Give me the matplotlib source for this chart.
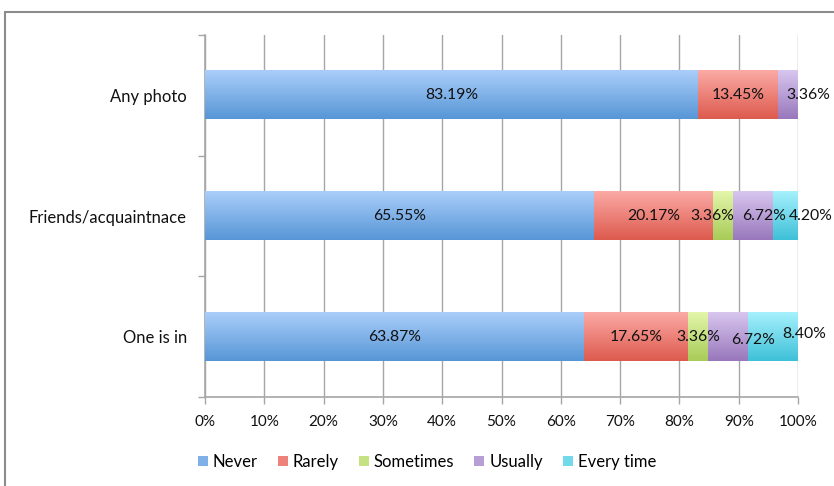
import numpy as np
import matplotlib
matplotlib.use("Agg")
import matplotlib.pyplot as plt
from matplotlib.colors import LinearSegmentedColormap
from matplotlib.patches import Patch, Rectangle

# Survey answers, bottom row first
categories = ["One is in", "Friends/acquaintnace", "Any photo"]
series_names = ["Never", "Rarely", "Sometimes", "Usually", "Every time"]
never = [63.87, 65.55, 83.19]
rarely = [17.65, 20.17, 13.45]
sometimes = [3.36, 3.36, 0.0]
usually = [6.72, 6.72, 3.36]
every_time = [8.40, 4.20, 0.0]
x_ticks = [0, 10, 20, 30, 40, 50, 60, 70, 80, 90, 100]

series_values = [never, rarely, sometimes, usually, every_time]

# (bottom colour, top colour) for each series' vertical gradient
gradients = [
    ("#5796d6", "#aacefa"),
    ("#dd5a4e", "#fbaaa5"),
    ("#a8cb58", "#e3f6aa"),
    ("#9877bb", "#d8c6ef"),
    ("#3ec0d8", "#a6f1fd"),
]
legend_colors = ["#7fb0e8", "#ec8279", "#c6e181", "#b89ed6", "#72d9ea"]

# pixel nudges for crowded value labels: (series index, row index) -> (dx, dy down)
label_nudge = {
    (2, 1): (-11, 0),
    (3, 1): (11, 0),
    (4, 1): (25, 0),
    (3, 0): (25, 3),
    (4, 0): (31, -3),
    (3, 2): (20, 0),
}

plt.rcParams["font.family"] = ["Lato", "DejaVu Sans"]
fig = plt.figure(figsize=(8.34, 4.86), dpi=100)
ax = fig.add_axes([205 / 834, 1 - 397 / 486, 593 / 834, 362 / 486])

# outer chart frame
fig.add_artist(Rectangle((5 / 834, -0.2), 1.2, 0.2 + 1 - 12 / 486,
                         transform=fig.transFigure, fill=False,
                         edgecolor="#8c8c8c", linewidth=1.5, zorder=0))

y = np.arange(len(categories))
grad = np.linspace(0, 1, 128).reshape(-1, 1)
left = np.zeros(len(categories))
for si, vals in enumerate(series_values):
    vals = np.asarray(vals)
    bars = ax.barh(y, vals, left=left, height=0.4, color="none",
                   edgecolor="none", zorder=3)
    cmap = LinearSegmentedColormap.from_list(series_names[si], gradients[si])
    for ri, patch in enumerate(bars.patches):
        if vals[ri] <= 0:
            continue
        x0, y0 = patch.get_x(), patch.get_y()
        w, h = patch.get_width(), patch.get_height()
        ax.imshow(grad, extent=[x0, x0 + w, y0, y0 + h], origin="lower",
                  aspect="auto", cmap=cmap, zorder=3, interpolation="bilinear")
        dx, dy = label_nudge.get((si, ri), (0, 0))
        ax.annotate(f"{vals[ri]:.2f}%", (x0 + w / 2, y0 + h / 2),
                    xytext=(dx, -dy), textcoords="offset pixels",
                    ha="center", va="center", fontsize=11.3,
                    color="#111111", zorder=5)
    left = left + vals

ax.set_xlim(0, 100)
ax.set_ylim(-0.5, len(categories) - 0.5)

grid_color = "#a6a6a6"
ax.set_xticks(x_ticks)
ax.set_xticklabels([f"{t}%" for t in x_ticks])
ax.xaxis.grid(True, color=grid_color, linewidth=1.0, zorder=1)
ax.set_axisbelow(True)
ax.tick_params(axis="x", length=5, width=1, color=grid_color,
               labelsize=11, pad=8, labelcolor="#111111")

ax.set_yticks(y)
ax.set_yticklabels(categories)
ax.set_yticks(np.arange(-0.5, len(categories)), minor=True)
ax.tick_params(axis="y", which="major", length=0, labelsize=12, pad=13,
               labelcolor="#111111")
ax.tick_params(axis="y", which="minor", length=5, width=1, color=grid_color)

for side in ("top", "right"):
    ax.spines[side].set_visible(False)
for side in ("left", "bottom"):
    ax.spines[side].set_color(grid_color)
    ax.spines[side].set_linewidth(1.2)

handles = [Patch(facecolor=c, edgecolor="none") for c in legend_colors]
fig.legend(handles, series_names, loc="center", ncol=5,
           bbox_to_anchor=(427 / 834, 1 - 462 / 486), frameon=False,
           fontsize=12, handlelength=0.6, handleheight=0.6,
           handletextpad=0.3, columnspacing=1.2, borderaxespad=0)

fig.savefig("out.png", dpi=100, facecolor="white")
